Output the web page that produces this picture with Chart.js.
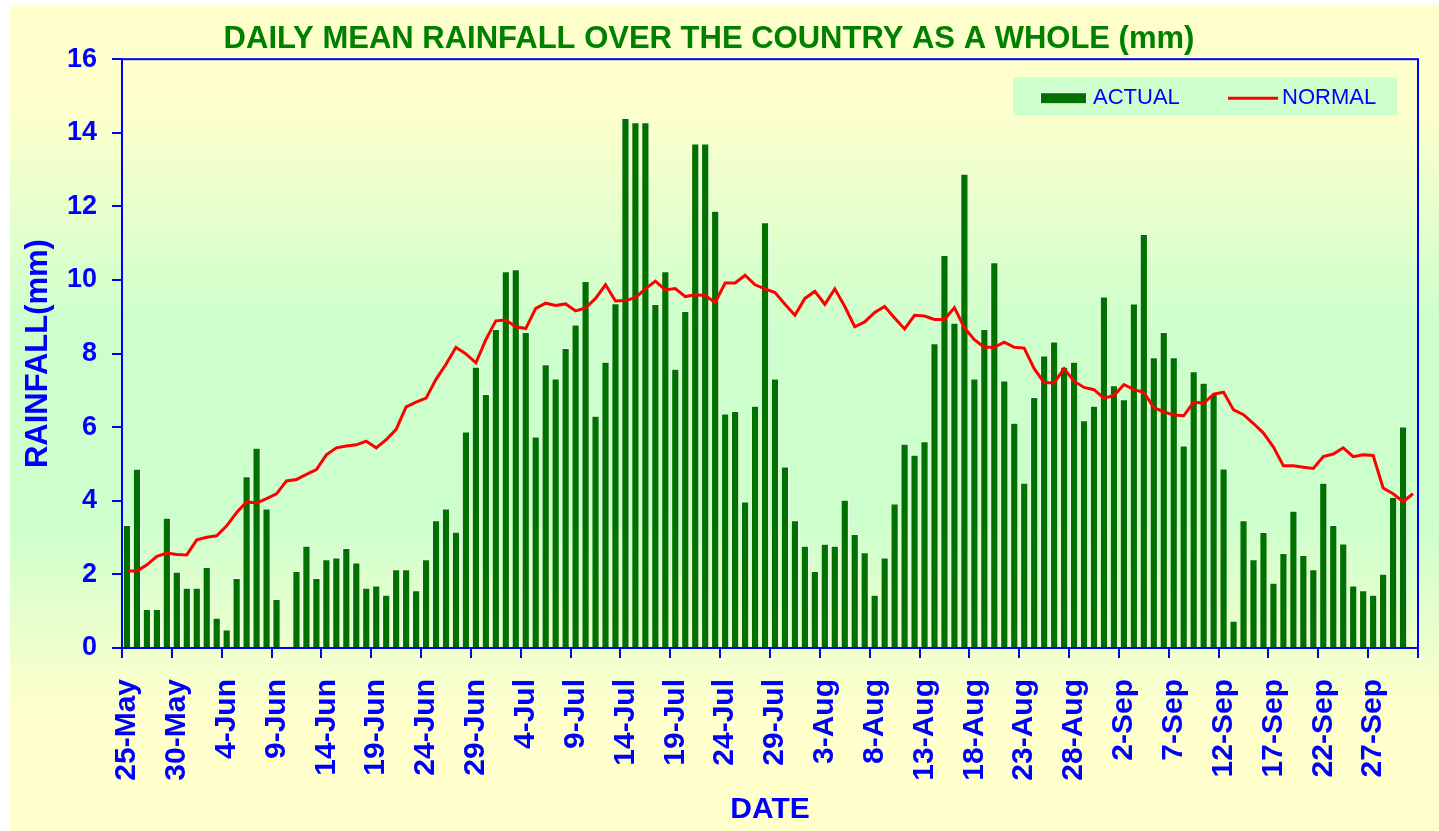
<!DOCTYPE html>
<html>
<head>
<meta charset="utf-8">
<title>Daily mean rainfall</title>
<script src="https://cdn.jsdelivr.net/npm/chart.js@4.4.1/dist/chart.umd.min.js"></script>
<style>
  body { margin: 0; background: #ffffff; }
  canvas { display: block; }
</style>
</head>
<body>
<canvas id="rainChart" width="1439" height="831"></canvas>
<script>
// days from 25-May to 1-Oct
const categories = [
  '25-May','26-May','27-May','28-May','29-May','30-May','31-May',
  '1-Jun','2-Jun','3-Jun','4-Jun','5-Jun','6-Jun','7-Jun','8-Jun','9-Jun','10-Jun',
  '11-Jun','12-Jun','13-Jun','14-Jun','15-Jun','16-Jun','17-Jun','18-Jun','19-Jun','20-Jun',
  '21-Jun','22-Jun','23-Jun','24-Jun','25-Jun','26-Jun','27-Jun','28-Jun','29-Jun','30-Jun',
  '1-Jul','2-Jul','3-Jul','4-Jul','5-Jul','6-Jul','7-Jul','8-Jul','9-Jul','10-Jul',
  '11-Jul','12-Jul','13-Jul','14-Jul','15-Jul','16-Jul','17-Jul','18-Jul','19-Jul','20-Jul',
  '21-Jul','22-Jul','23-Jul','24-Jul','25-Jul','26-Jul','27-Jul','28-Jul','29-Jul','30-Jul','31-Jul',
  '1-Aug','2-Aug','3-Aug','4-Aug','5-Aug','6-Aug','7-Aug','8-Aug','9-Aug','10-Aug',
  '11-Aug','12-Aug','13-Aug','14-Aug','15-Aug','16-Aug','17-Aug','18-Aug','19-Aug','20-Aug',
  '21-Aug','22-Aug','23-Aug','24-Aug','25-Aug','26-Aug','27-Aug','28-Aug','29-Aug','30-Aug','31-Aug',
  '1-Sep','2-Sep','3-Sep','4-Sep','5-Sep','6-Sep','7-Sep','8-Sep','9-Sep','10-Sep',
  '11-Sep','12-Sep','13-Sep','14-Sep','15-Sep','16-Sep','17-Sep','18-Sep','19-Sep','20-Sep',
  '21-Sep','22-Sep','23-Sep','24-Sep','25-Sep','26-Sep','27-Sep','28-Sep','29-Sep','30-Sep',
  '1-Oct'
];

const tickLabels = [
  '25-May','30-May','4-Jun','9-Jun','14-Jun','19-Jun','24-Jun','29-Jun',
  '4-Jul','9-Jul','14-Jul','19-Jul','24-Jul','29-Jul','3-Aug','8-Aug',
  '13-Aug','18-Aug','23-Aug','28-Aug','2-Sep','7-Sep','12-Sep','17-Sep',
  '22-Sep','27-Sep'
];

const actual = [
  3.34, 4.87, 1.06, 1.06, 3.54, 2.07, 1.64, 1.64, 2.2, 0.82, 0.5, 1.9, 4.67, 5.44, 3.79, 1.33,
  null, 2.09, 2.78, 1.9, 2.41, 2.46, 2.72, 2.32, 1.64, 1.7, 1.45, 2.14, 2.14, 1.57, 2.41, 3.47,
  3.79, 3.16, 5.88, 7.64, 6.9, 8.67, 10.24, 10.29, 8.59, 5.75, 7.71, 7.32, 8.15, 8.79, 9.97, 6.31,
  7.78, 9.37, 14.4, 14.29, 14.29, 9.35, 10.24, 7.59, 9.16, 13.71, 13.71, 11.88, 6.37, 6.44, 3.98, 6.58,
  11.57, 7.32, 4.93, 3.47, 2.78, 2.09, 2.83, 2.78, 4.03, 3.1, 2.6, 1.45, 2.46, 3.93, 5.55, 5.25,
  5.62, 8.28, 10.68, 8.84, 12.89, 7.32, 8.67, 10.48, 7.27, 6.12, 4.49, 6.82, 7.95, 8.33, 7.64, 7.78,
  6.19, 6.58, 9.55, 7.14, 6.76, 9.36, 11.25, 7.9, 8.59, 7.9, 5.5, 7.52, 7.21, 6.9, 4.88, 0.74,
  3.47, 2.41, 3.15, 1.77, 2.58, 3.73, 2.53, 2.14, 4.49, 3.34, 2.84, 1.7, 1.57, 1.45, 2.02, 4.1,
  6.02, null
];

const normal = [
  2.09, 2.09, 2.26, 2.49, 2.58, 2.54, 2.53, 2.94, 3.01, 3.05, 3.32, 3.68, 3.97, 3.94, 4.06, 4.19,
  4.54, 4.58, 4.72, 4.85, 5.25, 5.44, 5.49, 5.52, 5.62, 5.44, 5.66, 5.94, 6.55, 6.68, 6.79, 7.3,
  7.71, 8.17, 7.99, 7.75, 8.38, 8.89, 8.91, 8.73, 8.68, 9.23, 9.37, 9.31, 9.35, 9.16, 9.24, 9.5,
  9.87, 9.43, 9.44, 9.52, 9.76, 9.97, 9.73, 9.77, 9.55, 9.6, 9.58, 9.39, 9.92, 9.92, 10.13, 9.87,
  9.76, 9.66, 9.34, 9.04, 9.5, 9.69, 9.34, 9.76, 9.28, 8.73, 8.86, 9.12, 9.28, 8.97, 8.67, 9.04,
  9.02, 8.93, 8.93, 9.25, 8.7, 8.38, 8.17, 8.17, 8.31, 8.17, 8.15, 7.59, 7.21, 7.21, 7.59, 7.25,
  7.08, 7.02, 6.79, 6.86, 7.16, 7.02, 6.95, 6.53, 6.42, 6.33, 6.31, 6.68, 6.65, 6.9, 6.95, 6.47,
  6.34, 6.1, 5.84, 5.46, 4.95, 4.95, 4.91, 4.88, 5.2, 5.27, 5.44, 5.2, 5.25, 5.23, 4.35, 4.19,
  3.98, 4.19
];

const BLUE = '#0000ff';
const FONT = "'Liberation Sans', Arial, sans-serif";

// page background: pale yellow -> pale green -> pale yellow
const backdrop = {
  id: 'backdrop',
  beforeDraw(chart) {
    const { ctx, width, height } = chart;
    ctx.save();
    ctx.fillStyle = '#ffffff';
    ctx.fillRect(0, 0, width, height);
    const g = ctx.createLinearGradient(0, 0, 0, height);
    g.addColorStop(0, '#ffffcc');
    g.addColorStop(0.12, '#ffffcc');
    g.addColorStop(0.4, '#ccffcc');
    g.addColorStop(0.62, '#ccffcc');
    g.addColorStop(0.86, '#ffffcc');
    g.addColorStop(1, '#ffffcc');
    ctx.fillStyle = g;
    ctx.fillRect(10, 5, width - 10, height - 5);
    ctx.restore();
  }
};

function shownTick(index) {
  return tickLabels.includes(categories[index]);
}

// blue box round the plot, x tick marks between the days, legend top right
const frameAndLegend = {
  id: 'frameAndLegend',
  afterDatasetsDraw(chart) {
    const { ctx, chartArea: a } = chart;
    const xs = chart.scales.x;
    ctx.save();
    ctx.strokeStyle = BLUE;
    ctx.lineWidth = 2;
    ctx.strokeRect(a.left, a.top, a.right - a.left, a.bottom - a.top);

    // null labels drop out of xs.ticks, so place marks by category value
    const half = (xs.getPixelForValue(1) - xs.getPixelForValue(0)) / 2;
    ctx.beginPath();
    categories.forEach((c, i) => {
      if (!shownTick(i)) return;
      const px = Math.round(xs.getPixelForValue(i) - half);
      ctx.moveTo(px, a.bottom);
      ctx.lineTo(px, a.bottom + 10);
    });
    ctx.moveTo(a.right, a.bottom);
    ctx.lineTo(a.right, a.bottom + 10);
    ctx.stroke();

    const lx = a.right - 405, ly = a.top + 18;
    ctx.fillStyle = '#ccffcc';
    ctx.fillRect(lx, ly, 384, 38);

    const my = ly + 21;
    ctx.fillStyle = '#f0fff0';
    ctx.fillRect(lx + 27, my - 6, 47, 12);
    ctx.fillStyle = '#007000';
    ctx.fillRect(lx + 28, my - 5, 45, 10);

    ctx.strokeStyle = '#ff0000';
    ctx.lineWidth = 3;
    ctx.beginPath();
    ctx.moveTo(lx + 215, my);
    ctx.lineTo(lx + 265, my);
    ctx.stroke();

    ctx.fillStyle = BLUE;
    ctx.font = '22px ' + FONT;
    ctx.textBaseline = 'middle';
    ctx.textAlign = 'left';
    ctx.fillText('ACTUAL', lx + 80, my);
    ctx.fillText('NORMAL', lx + 269, my);
    ctx.restore();
  }
};

const chart = new Chart(document.getElementById('rainChart'), {
  data: {
    labels: categories,
    datasets: [
      {
        type: 'line',
        label: 'NORMAL',
        data: normal,
        borderColor: '#ff0000',
        borderWidth: 3,
        pointRadius: 0,
        tension: 0,
        order: 0
      },
      {
        type: 'bar',
        label: 'ACTUAL',
        data: actual,
        backgroundColor: '#007000',
        borderColor: '#f0fff0',
        borderWidth: 1,
        categoryPercentage: 1,
        barPercentage: 0.82,
        order: 1
      }
    ]
  },
  options: {
    responsive: false,
    devicePixelRatio: 1,
    animation: false,
    layout: { padding: { right: 21 } },
    plugins: {
      legend: { display: false },
      tooltip: { enabled: false },
      title: {
        display: true,
        text: 'DAILY MEAN RAINFALL OVER THE COUNTRY AS A WHOLE (mm)',
        color: '#008000',
        font: { family: FONT, size: 31, weight: 'bold' },
        padding: { top: 21, bottom: 1 }
      }
    },
    scales: {
      x: {
        offset: true,
        grid: { display: false },
        border: { color: BLUE, width: 2 },
        ticks: {
          autoSkip: false,
          minRotation: 90,
          maxRotation: 90,
          padding: 23,
          color: BLUE,
          font: { family: FONT, size: 30, weight: 'bold' },
          callback: (value, index) => shownTick(index) ? categories[index] : null
        },
        title: {
          display: true,
          text: 'DATE',
          color: BLUE,
          font: { family: FONT, size: 30, weight: 'bold' },
          padding: { top: 0, bottom: 3 }
        },
        afterFit: s => { s.height = 183; }
      },
      y: {
        min: 0,
        max: 16,
        grid: { drawOnChartArea: false, tickLength: 10, color: BLUE, lineWidth: 2 },
        border: { color: BLUE, width: 2 },
        ticks: {
          stepSize: 2,
          padding: 15,
          color: BLUE,
          font: { family: FONT, size: 27, weight: 'bold' }
        },
        title: {
          display: true,
          text: 'RAINFALL(mm)',
          color: BLUE,
          font: { family: FONT, size: 31, weight: 'bold' },
          padding: { top: 20, bottom: 0 }
        },
        afterFit: s => { s.width = 122; }
      }
    }
  },
  plugins: [backdrop, frameAndLegend]
});
</script>
</body>
</html>
